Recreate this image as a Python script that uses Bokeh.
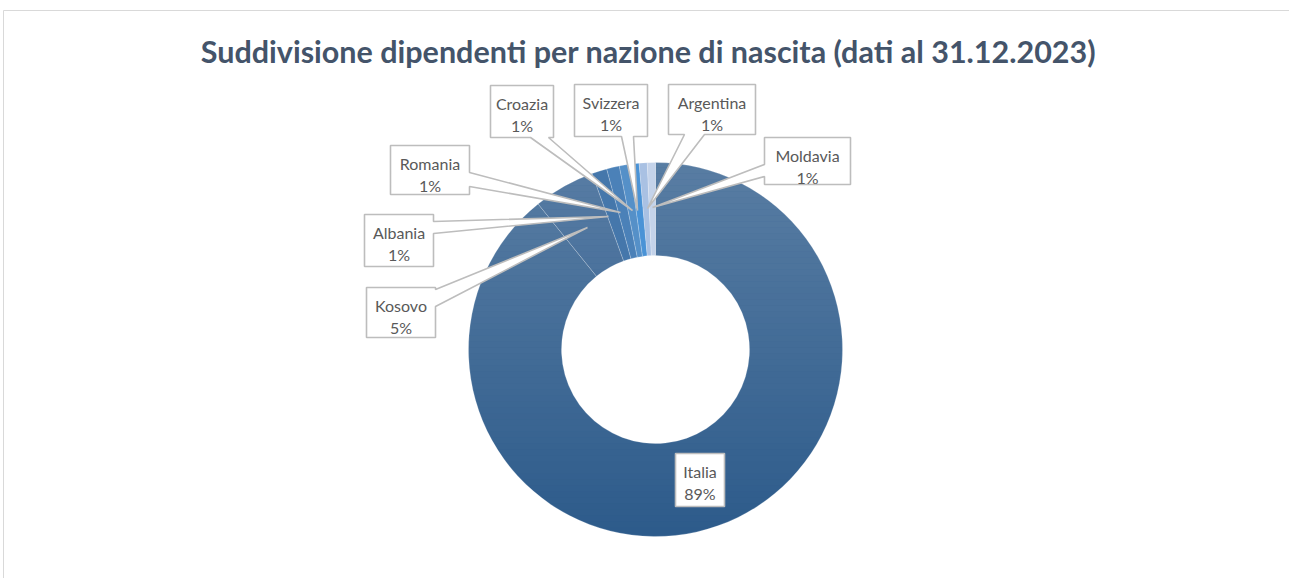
import math
from bokeh.plotting import figure
from bokeh.models import ColumnDataSource, Range1d
from bokeh.core.properties import value
from bokeh.embed import file_html
from bokeh.resources import INLINE

# ---------------- data ----------------
countries = ["Italia", "Kosovo", "Albania", "Romania", "Croazia", "Svizzera", "Argentina", "Moldavia"]
shares = [89.2, 5.3, 1.3, 1.1, 0.9, 0.8, 0.7, 0.7]
title_text = "Suddivisione dipendenti per nazione di nascita (dati al 31.12.2023)"

# ---------------- styles / layout ----------------
colors = ["#2d5b8b", "#2c5a8c", "#4577ab", "#4b81b8", "#5590c8", "#4a93d6", "#a9c1e3", "#c4d3ea"]
shaded = [True, True, False, False, False, False, False, False]  # get the vertical light gradient
W, H = 1289, 578
def Y(sy):
    return H - sy

cx, cy = 655, 349
r_out, r_in = 187, 94

# callout layout (screen px): box l,t,r,b ; pointer edge ; base a0,a1 ; tip
callouts = {
    "Italia":    ((675, 453, 724, 506), None, None, None, None),
    "Kosovo":    ((366, 287, 435, 337), "right", 289, 306, (587, 227)),
    "Albania":   ((364, 214, 433, 266), "right", 221, 233, (608, 216)),
    "Romania":   ((390, 145, 469, 194), "right", 172, 186, (620, 212)),
    "Croazia":   ((490, 85, 553, 137), "bottom", 530, 548, (632, 210)),
    "Svizzera":  ((574, 84, 647, 136), "bottom", 621, 633, (637, 210)),
    "Argentina": ((668, 84, 755, 134), "bottom", 684, 704, (647, 208)),
    "Moldavia":  ((764, 137, 850, 184), "left", 164, 176, (652, 207)),
}

# ---------------- figure ----------------
p = figure(width=W, height=H, output_backend="svg", toolbar_location=None,
           x_range=Range1d(0, W), y_range=Range1d(0, H),
           x_axis_location=None, y_axis_location=None, min_border=0)
p.grid.visible = False
p.outline_line_color = None
p.background_fill_color = "white"
p.border_fill_color = "white"

# chart border (top & left)
p.line(x=[3, W], y=[Y(10), Y(10)], line_color="#d9d9d9", line_width=1)
p.line(x=[3, 3], y=[Y(10), Y(H)], line_color="#d9d9d9", line_width=1)

# donut wedges (clockwise from 12 o'clock)
total = sum(shares)
starts, ends = [], []
cum = 0.0
for s in shares:
    c0 = cum
    cum += s
    starts.append(math.pi / 2 - 2 * math.pi * cum / total)
    ends.append(math.pi / 2 - 2 * math.pi * c0 / total)

def wedge_src(flag):
    idx = [i for i in range(len(countries)) if shaded[i] == flag]
    return ColumnDataSource(dict(start=[starts[i] for i in idx], end=[ends[i] for i in idx],
                                 color=[colors[i] for i in idx], name=[countries[i] for i in idx]))

wkw = dict(x=cx, y=Y(cy), inner_radius=r_in, outer_radius=r_out,
           start_angle="start", end_angle="end", fill_color="color",
           line_color="white", line_alpha=0.35, line_width=0.6)
p.annular_wedge(source=wedge_src(True), **wkw)

# vertical light gradient: non-overlapping translucent white bands (pixel aligned)
top, bottom = cy - r_out - 1, cy + r_out + 1
step = 6
edges = list(range(top, bottom, step)) + [bottom]
b_top = [Y(e) for e in edges[:-1]]
b_bot = [Y(e) for e in edges[1:]]
b_alpha = [0.21 * (1 - ((e0 + e1) / 2 - top) / (bottom - top)) for e0, e1 in zip(edges[:-1], edges[1:])]
p.quad(left=cx - r_out - 1, right=cx + r_out + 1, top=b_top, bottom=b_bot,
       fill_color="white", fill_alpha=b_alpha, line_color=None)

p.annular_wedge(source=wedge_src(False), **wkw)

# callouts
def callout_poly(box, edge, a0_, a1_, tip):
    l, t, r, b = box
    pts = [(l, t)]
    if edge == "top":
        pts += [(a0_, t), tip, (a1_, t)]
    pts.append((r, t))
    if edge == "right":
        pts += [(r, a0_), tip, (r, a1_)]
    pts.append((r, b))
    if edge == "bottom":
        pts += [(a1_, b), tip, (a0_, b)]
    pts.append((l, b))
    if edge == "left":
        pts += [(l, a1_), tip, (l, a0_)]
    return [q[0] for q in pts], [Y(q[1]) for q in pts]

xs, ys, tx, ty_name, ty_pct, names, pcts = [], [], [], [], [], [], []
for name, s in zip(countries, shares):
    box, edge, e0, e1, tip = callouts[name]
    px, py = callout_poly(box, edge, e0, e1, tip)
    xs.append(px)
    ys.append(py)
    l, t, r, b = box
    tx.append((l + r) / 2)
    ty_name.append(Y(t + 18))
    ty_pct.append(Y(t + 40))
    names.append(name)
    pcts.append(f"{round(s / total * 100)}%")

p.patches(xs=xs, ys=ys, fill_color="white", line_color="#bdbdbd", line_width=1.6)
p.text(x=tx, y=ty_name, text=names, text_font=value("Lato"), text_font_size="16px",
       text_align="center", text_baseline="middle", text_color="#595959")
p.text(x=tx, y=ty_pct, text=pcts, text_font=value("Lato"), text_font_size="16px",
       text_align="center", text_baseline="middle", text_color="#595959")

# title
p.text(x=[648], y=[Y(50)], text=[title_text], text_font=value("Lato"),
       text_font_size="30.5px", text_font_style="bold", text_align="center",
       text_baseline="middle", text_color="#44546a")

open("out.html", "w").write(file_html(p, INLINE))
